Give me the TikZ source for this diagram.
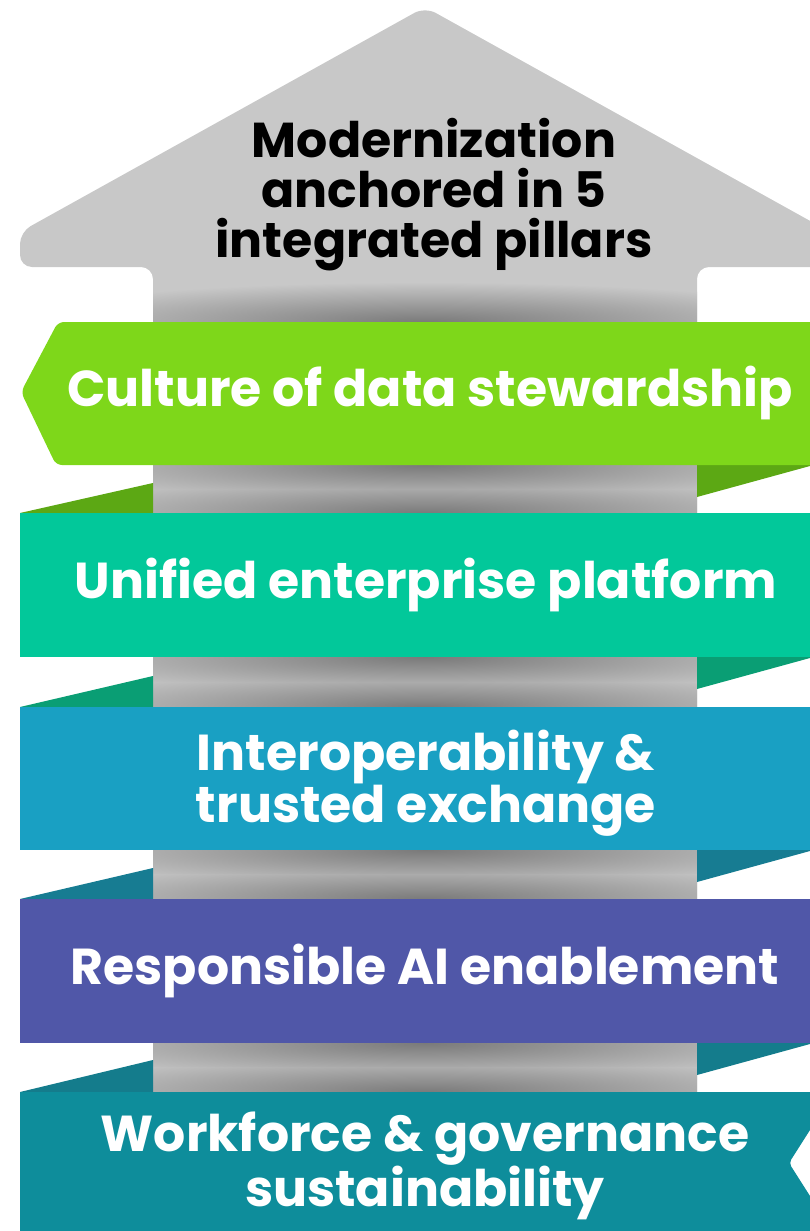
\documentclass[tikz,border=0pt]{standalone}
\usepackage{fontspec}
\setmainfont{Poppins}
\definecolor{shaftgray}{HTML}{C8C8C8}
\definecolor{shadowgray}{HTML}{7A7A7A}
\definecolor{cultgreen}{HTML}{7ED71A}
\definecolor{cultfold}{HTML}{5CA814}
\definecolor{platteal}{HTML}{02C89A}
\definecolor{platfold}{HTML}{0A9E74}
\definecolor{interblue}{HTML}{19A0C3}
\definecolor{interfold}{HTML}{177C92}
\definecolor{aipurple}{HTML}{5057A8}
\definecolor{aifold}{HTML}{147C8C}
\definecolor{workteal}{HTML}{0E8D9B}

\begin{document}
\begin{tikzpicture}[x=1pt,y=-1pt,
    bandtext/.style={text=white, font=\fontsize{50.5}{50}\selectfont\bfseries, align=center},
    titletext/.style={text=black, font=\fontsize{49}{50}\selectfont\bfseries, align=center},
    shadow/.style={inner color=shadowgray, outer color=shaftgray}]

    \useasboundingbox (0,0) rectangle (810,1231);
    \clip (0,0) rectangle (810,1231);

	% Big arrow
	\fill[shaftgray, rounded corners=12] (153,1260) -- (153,267) -- (20,267) -- (20,232) -- (425,7) -- (830,232) -- (830,267) -- (697,267) -- (697,1260) -- cycle;

	% Shadows on the shaft
	\begin{scope}
	  \clip (153,267) rectangle (697,322);
	  \shade[shadow] (425,322) ellipse (420 and 40);
	\end{scope}
	\foreach \b/\t in {465/513, 657/707, 850/899, 1043/1092} {
	  \begin{scope}
	    \clip (153,\b) rectangle (697,{(\b+\t)/2});
	    \shade[shadow] (425,\b) ellipse (420 and 40);
	  \end{scope}
	  \begin{scope}
	    \clip (153,{(\b+\t)/2}) rectangle (697,\t);
	    \shade[shadow] (425,\t) ellipse (420 and 40);
	  \end{scope}
	}

	% Folds
	\fill[cultfold] (697,465) -- (697,497) -- (810,466) -- (810,465) -- cycle;
	\fill[cultfold] (153,483) -- (153,513) -- (20,513) -- cycle;
	\fill[platfold] (697,657) -- (697,689) -- (810,658) -- (810,657) -- cycle;
	\fill[platfold] (153,676) -- (153,707) -- (20,707) -- cycle;
	\fill[interfold] (697,850) -- (697,882) -- (810,851) -- (810,850) -- cycle;
	\fill[interfold] (153,868) -- (153,899) -- (20,899) -- cycle;
	\fill[aifold] (697,1043) -- (697,1075) -- (810,1044) -- (810,1043) -- cycle;
	\fill[aifold] (153,1060) -- (153,1092) -- (20,1092) -- cycle;

	% Pillars
	\fill[cultgreen, rounded corners=6] (820,322) -- (58,322) -- (21,392) -- (56,465) -- (820,465) -- cycle;
	\fill[platteal] (20,513) rectangle (810,657);
	\fill[interblue] (20,707) rectangle (810,850);
	\fill[aipurple] (20,899) rectangle (810,1043);
	\fill[workteal, rounded corners=4] (20,1092) -- (820,1092) -- (820,1130) [sharp corners] -- (810,1130) [rounded corners=4] -- (789,1163) [sharp corners] -- (810,1196) -- (820,1196) -- (820,1240) -- (20,1240) -- cycle;

	% Labels
	\node[titletext] (title) at (434,195) {Modernization\\anchored in 5\\integrated pillars};
	\node[bandtext] (culture) at (430,393) {Culture of data stewardship};
	\node[bandtext] (platform) at (426,585) {Unified enterprise platform};
	\node[bandtext] (interop) at (426,783) {Interoperability \&\\trusted exchange};
	\node[bandtext] (aienable) at (425,971) {Responsible AI enablement};
	\node[bandtext] (workforce) at (425,1166) {Workforce \& governance\\sustainability};

\end{tikzpicture}
\end{document}
